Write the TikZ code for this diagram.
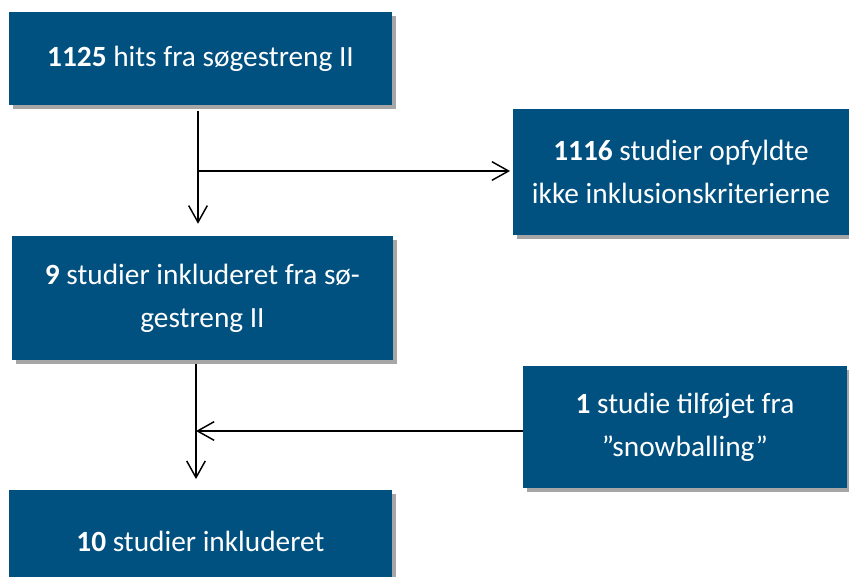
\documentclass[tikz,border=0pt]{standalone}
\usepackage{fontspec}
\setmainfont{Carlito}
\usetikzlibrary{positioning,arrows.meta,shadows}
\definecolor{boxblue}{RGB}{0,80,128}

\begin{document}
\begin{tikzpicture}[
            x=0.75pt, y=-0.75pt,
            block/.style={fill=boxblue, text=white, align=center, inner sep=0pt,
                font=\fontsize{22}{32}\selectfont,
                drop shadow={shadow xshift=3pt, shadow yshift=-3pt, fill=black, opacity=0.35}},
            arr/.style={-{Straight Barb[length=12.5pt, width=14pt, line width=1.1pt]}, line width=1.1pt}
        ]

            \useasboundingbox (0,0) rectangle (849,576);

            \node[block, minimum width=383*0.75pt, minimum height=93*0.75pt] (hits) at (200.5,58.5) {\textbf{1125} hits fra søgestreng II};
            \node[block, minimum width=336*0.75pt, minimum height=126*0.75pt] (excl) at (681,172) {\textbf{1116} studier opfyldte\\ikke inklusionskriterierne};
            \node[block, minimum width=381*0.75pt, minimum height=124*0.75pt] (incl) at (202.5,298) {\textbf{9} studier inkluderet fra sø-\\gestreng II};
            \node[block, minimum width=324*0.75pt, minimum height=122*0.75pt] (snow) at (685,427) {\textbf{1} studie tilføjet fra\\”snowballing”};
            \node[block, minimum width=383*0.75pt, minimum height=102*0.75pt] (total) at (200.5,541) {\textbf{10} studier inkluderet};

            \coordinate (split) at (198,171);
            \coordinate (join) at (196,431);

            \draw[arr, shorten <=4pt, shorten >=9pt] (hits.south -| split) -- (incl.north -| split);
            \draw[arr, shorten >=2pt] (split) -- (excl.west |- split);
            \draw[arr, shorten <=3pt, shorten >=8pt] (incl.south -| join) -- (total.north -| join);
            \draw[arr] (snow.west |- join) -- (join);

        \end{tikzpicture}
\end{document}
